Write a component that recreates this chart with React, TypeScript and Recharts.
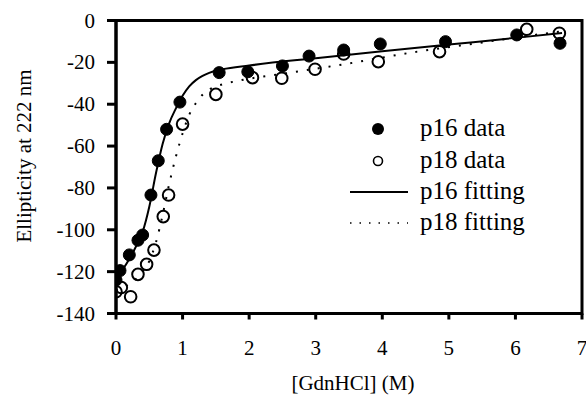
import React from 'react';
import {
  ComposedChart,
  Line,
  Scatter,
  XAxis,
  YAxis,
  Legend,
  Label,
  ReferenceArea,
} from 'recharts';

// Denaturation series: GdnHCl concentration (M) vs ellipticity at 222 nm
const p16Conc = [0, 0.06, 0.2, 0.33, 0.4, 0.525, 0.635, 0.76, 0.96, 1.55, 1.98, 2.5, 2.9, 3.42, 3.97, 4.95, 6.02, 6.67];
const p16Ellip = [-124, -119.5, -112, -105, -102.5, -83.4, -67, -52, -39, -24.9, -24.5, -21.7, -17, -14.1, -11.2, -10.1, -6.9, -10.9];

const p18Conc = [0, 0.08, 0.22, 0.33, 0.46, 0.57, 0.71, 0.79, 1.0, 1.5, 2.05, 2.49, 2.99, 3.42, 3.94, 4.86, 6.17, 6.66];
const p18Ellip = [-129.6, -127.6, -132, -121.3, -116.5, -109.7, -93.7, -83.4, -49.5, -35.3, -27.3, -27.6, -23.3, -16, -19.7, -14.9, -4.2, -6.1];

// Two-state fit curves
const p16FitConc = [0, 0.1, 0.2, 0.3, 0.4, 0.5, 0.6, 0.7, 0.8, 0.9, 1.0, 1.1, 1.2, 1.3, 1.4, 1.6, 2, 3, 4, 5, 6, 6.7];
const p16FitEllip = [-123, -119, -114, -108, -101, -89, -73, -59, -49, -42, -36, -31.5, -28.5, -26.5, -25, -23.3, -21.5, -18, -14.7, -11.5, -8.3, -6];

const p18FitConc = [0, 0.2, 0.4, 0.5, 0.6, 0.7, 0.8, 0.9, 1.0, 1.1, 1.2, 1.3, 1.4, 1.6, 1.8, 2.5, 3.5, 4.5, 5.5, 6.5, 6.7];
const p18FitEllip = [-129, -126, -120, -115, -106, -93, -78, -65, -54, -45, -39.5, -35.5, -33, -30.5, -29, -25.5, -20.5, -15, -10.5, -6, -5.2];

const xTicks = [0, 1, 2, 3, 4, 5, 6, 7];
const yTicks = [-140, -120, -100, -80, -60, -40, -20, 0];

const legendLabels = ['p16 data', 'p18 data', 'p16 fitting', 'p18 fitting'];

const toPoints = (xs: number[], ys: number[]) => xs.map((x, i) => ({ x, y: ys[i] }));

const p16Points = toPoints(p16Conc, p16Ellip);
const p18Points = toPoints(p18Conc, p18Ellip);
const p16Fit = toPoints(p16FitConc, p16FitEllip);
const p18Fit = toPoints(p18FitConc, p18FitEllip);

const FONT = 'Liberation Serif';
const INK = '#000000';

const FilledDot = (props: any) => {
  const { cx, cy } = props;
  return <circle cx={cx} cy={cy} r={6} fill={INK} stroke={INK} strokeWidth={1} />;
};

const OpenDot = (props: any) => {
  const { cx, cy } = props;
  return <circle cx={cx} cy={cy} r={5.8} fill="none" stroke={INK} strokeWidth={2} />;
};

const XTick = (props: any) => {
  const { x, y, payload } = props;
  return (
    <text x={x} y={y} dy={15} textAnchor="middle" fontFamily={FONT} fontSize={21} fill={INK}>
      {payload.value}
    </text>
  );
};

const YTick = (props: any) => {
  const { x, y, payload } = props;
  return (
    <text x={x} y={y} dy={7} textAnchor="end" fontFamily={FONT} fontSize={21} fill={INK}>
      {payload.value}
    </text>
  );
};

const LegendBox = () => {
  const rowY = [19, 51, 82, 113];
  return (
    <svg width={240} height={135} style={{ display: 'block', overflow: 'visible' }}>
      <circle cx={38} cy={rowY[0]} r={6} fill={INK} />
      <circle cx={38} cy={rowY[1]} r={4.5} fill="none" stroke={INK} strokeWidth={1.6} />
      <line x1={10} x2={68} y1={rowY[2]} y2={rowY[2]} stroke={INK} strokeWidth={2} />
      <line x1={10} x2={68} y1={rowY[3]} y2={rowY[3]} stroke={INK} strokeWidth={1.5} strokeDasharray="1.5 8" />
      {legendLabels.map((t, i) => (
        <text key={t} x={80} y={rowY[i] + 7} fontFamily={FONT} fontSize={25} fill={INK}>
          {t}
        </text>
      ))}
    </svg>
  );
};

const XTitle = (props: any) => {
  const { viewBox } = props;
  const x = viewBox.x + viewBox.width / 2 + 4;
  return (
    <text x={x} y={390} textAnchor="middle" fontFamily={FONT} fontSize={21} fill={INK}>
      [GdnHCl] (M)
    </text>
  );
};

const YTitle = (props: any) => {
  const { viewBox } = props;
  const x = 31;
  const y = viewBox.y + viewBox.height / 2 - 11;
  return (
    <text
      x={x}
      y={y}
      transform={`rotate(-90 ${x} ${y})`}
      textAnchor="middle"
      fontFamily={FONT}
      fontSize={21}
      fill={INK}
    >
      Ellipticity at 222 nm
    </text>
  );
};

export default function App() {
  const frame = { stroke: INK, strokeWidth: 3 };
  return (
    <div style={{ position: 'absolute', left: 0, top: 0, background: '#fff', fontFamily: FONT }}>
      <ComposedChart width={586} height={402} margin={{ top: 20.5, right: 4, bottom: 0, left: 0 }}>
        <XAxis
          type="number"
          dataKey="x"
          domain={[0, 7]}
          ticks={xTicks}
          interval={0}
          allowDataOverflow
          height={88.5}
          stroke={INK}
          axisLine={frame}
          tickLine={frame}
          tickSize={6}
          tickMargin={20}
          tick={<XTick />}
        >
          <Label content={<XTitle />} />
        </XAxis>
        <YAxis
          type="number"
          dataKey="y"
          domain={[-140, 0]}
          ticks={yTicks}
          interval={0}
          allowDataOverflow
          width={116}
          stroke={INK}
          axisLine={frame}
          tickLine={frame}
          tickSize={9}
          tickMargin={12}
          tick={<YTick />}
        >
          <Label content={<YTitle />} />
        </YAxis>
        {/* closed frame around the plot */}
        <ReferenceArea x1={0} x2={7} y1={-140} y2={0} fill="none" fillOpacity={0} stroke={INK} strokeWidth={3} ifOverflow="visible" />
        <Scatter name="p16 data" data={p16Points} shape={<FilledDot />} isAnimationActive={false} />
        <Scatter name="p18 data" data={p18Points} shape={<OpenDot />} isAnimationActive={false} />
        <Line
          name="p16 fitting"
          data={p16Fit}
          dataKey="y"
          type="monotone"
          stroke={INK}
          strokeWidth={2}
          dot={false}
          activeDot={false}
          isAnimationActive={false}
        />
        <Line
          name="p18 fitting"
          data={p18Fit}
          dataKey="y"
          type="monotone"
          stroke={INK}
          strokeWidth={2}
          strokeDasharray="2 9"
          dot={false}
          activeDot={false}
          isAnimationActive={false}
        />
        <Legend
          layout="vertical"
          align="center"
          verticalAlign="middle"
          content={<LegendBox />}
          wrapperStyle={{ position: 'absolute', left: 340, top: 110, width: 240, height: 135 }}
        />
      </ComposedChart>
    </div>
  );
}
